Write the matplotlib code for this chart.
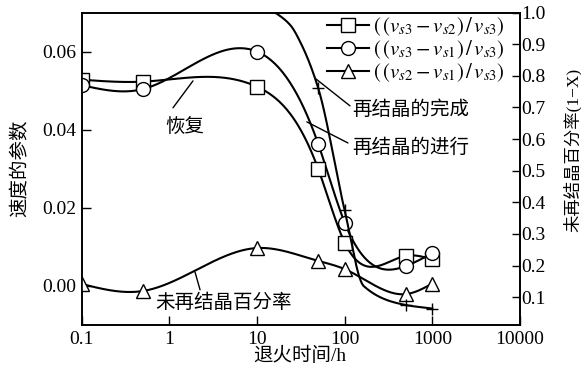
import numpy as np
import matplotlib
matplotlib.use("Agg")
import matplotlib.pyplot as plt
from matplotlib.ticker import FixedLocator, FixedFormatter, NullLocator

# annealing time (h)
hours = [0.1, 0.5, 10, 50, 100, 500, 1000]
# velocity parameters (left axis)
sq_vals = [0.0528, 0.0523, 0.0510, 0.0299, 0.0111, 0.0077, 0.0068]
ci_vals = [0.0514, 0.0504, 0.0600, 0.0363, 0.0162, 0.0051, 0.0084]
tr_vals = [0.0005, -0.0013, 0.0097, 0.0064, 0.0043, -0.0021, 0.0006]
# unrecrystallized fraction (right axis): curve knots and marked points
rx_hours = [10, 16, 24, 32, 50, 100, 165, 500, 1000]
rx_frac = [1.03, 1.00, 0.96, 0.90, 0.76, 0.374, 0.135, 0.075, 0.064]
rx_mark_hours = [50, 100, 500, 1000]
rx_mark_frac = [0.76, 0.374, 0.075, 0.064]

labels = [r'$(\,(v_{s3}-v_{s2})\,/\,v_{s3})$',
          r'$(\,(v_{s3}-v_{s1})\,/\,v_{s3})$',
          r'$(\,(v_{s2}-v_{s1})\,/\,v_{s3})$']
xticks = [0.1, 1, 10, 100, 1000, 10000]
xtick_labels = ['0.1', '1', '10', '100', '1000', '10000']
yticks_left = [0.0, 0.02, 0.04, 0.06]
yticks_right = [0.1, 0.2, 0.3, 0.4, 0.5, 0.6, 0.7, 0.8, 0.9, 1.0]


def spline(xs, ys, n=400):
    # natural cubic spline in log10(x)
    t = np.log10(np.asarray(xs, float))
    y = np.asarray(ys, float)
    h = np.diff(t)
    m = len(t)
    A = np.zeros((m, m))
    r = np.zeros(m)
    A[0, 0] = A[-1, -1] = 1
    for i in range(1, m - 1):
        A[i, i - 1] = h[i - 1]
        A[i, i] = 2 * (h[i - 1] + h[i])
        A[i, i + 1] = h[i]
        r[i] = 6 * ((y[i + 1] - y[i]) / h[i] - (y[i] - y[i - 1]) / h[i - 1])
    M = np.linalg.solve(A, r)
    tt = np.linspace(t[0], t[-1], n)
    k = np.clip(np.searchsorted(t, tt) - 1, 0, m - 2)
    a = t[k + 1] - tt
    b = tt - t[k]
    hk = h[k]
    yy = (M[k] * a ** 3 + M[k + 1] * b ** 3) / (6 * hk) \
        + (y[k] / hk - M[k] * hk / 6) * a + (y[k + 1] / hk - M[k + 1] * hk / 6) * b
    return 10 ** tt, yy


def pchip(xs, ys, n=400):
    # monotone cubic in log10(x)
    t = np.log10(np.asarray(xs, float))
    y = np.asarray(ys, float)
    h = np.diff(t)
    d = np.diff(y) / h
    m = np.zeros(len(t))
    m[0], m[-1] = d[0], d[-1]
    for k in range(1, len(t) - 1):
        if d[k - 1] * d[k] > 0:
            w1 = 2 * h[k] + h[k - 1]
            w2 = h[k] + 2 * h[k - 1]
            m[k] = (w1 + w2) / (w1 / d[k - 1] + w2 / d[k])
    tt = np.linspace(t[0], t[-1], n)
    k = np.clip(np.searchsorted(t, tt) - 1, 0, len(t) - 2)
    s = (tt - t[k]) / h[k]
    h00 = 2 * s ** 3 - 3 * s ** 2 + 1
    h10 = s ** 3 - 2 * s ** 2 + s
    h01 = -2 * s ** 3 + 3 * s ** 2
    h11 = s ** 3 - s ** 2
    yy = h00 * y[k] + h10 * h[k] * m[k] + h01 * y[k + 1] + h11 * h[k] * m[k + 1]
    return 10 ** tt, yy


def main():
    plt.rcParams['font.family'] = ['Liberation Serif', 'Noto Sans CJK SC']
    plt.rcParams['mathtext.fontset'] = 'stix'
    plt.rcParams['font.size'] = 14
    plt.rcParams['axes.linewidth'] = 1.2

    fig = plt.figure(figsize=(5.81, 3.77), dpi=100)
    ax = fig.add_axes([0.1406, 0.138, 0.7544, 0.8288])
    ax2 = ax.twinx()

    kw = dict(color='black', lw=1.5, mfc='white', mec='black', mew=1.0)
    handles = []
    for vals, mk, ms, lab in [(sq_vals, 's', 9.5, labels[0]),
                              (ci_vals, 'o', 10, labels[1]),
                              (tr_vals, '^', 10, labels[2])]:
        sx, sy = spline(hours, vals)
        ax.plot(sx, sy, color='black', lw=1.5, zorder=2)
        ax.plot(hours, vals, ls='none', marker=mk, ms=ms, mfc='white',
                mec='black', mew=1.0, zorder=3)
        h, = ax.plot([], [], marker=mk, ms=ms, label=lab, **kw)
        handles.append(h)

    rx, ry = pchip(rx_hours, rx_frac)
    ax2.plot(rx, ry, color='black', lw=1.5)
    ax2.plot(rx_mark_hours, rx_mark_frac, ls='none', marker='+', ms=9,
             mec='black', mew=1.0)

    ax.set_xscale('log')
    ax.set_xlim(0.1, 10000)
    ax.set_ylim(-0.01, 0.07)
    ax2.set_ylim(0.012, 1.0)

    ax.xaxis.set_major_locator(FixedLocator(xticks))
    ax.xaxis.set_major_formatter(FixedFormatter(xtick_labels))
    ax.xaxis.set_minor_locator(NullLocator())
    ax.set_yticks(yticks_left)
    ax.set_yticklabels(['%.2f' % v for v in yticks_left])
    ax2.set_yticks(yticks_right)
    ax2.set_yticklabels(['%.1f' % v for v in yticks_right])

    ax.tick_params(axis='both', direction='in', length=6.5, width=1.0,
                   labelsize=14)
    ax.tick_params(axis='x', pad=4)
    ax.tick_params(axis='y', pad=4)
    ax2.tick_params(axis='y', direction='in', length=6, width=1.0,
                    labelsize=14, pad=1)

    ax.set_xlabel('退火时间/h', fontsize=14)
    ax.xaxis.set_label_coords(0.498, -0.07)
    ax.set_ylabel('速度的参数', fontsize=14)
    ax.yaxis.set_label_coords(-0.118, 0.5)
    ax2.set_ylabel('未再结晶百分率(1−X)', fontsize=12.5)
    ax2.yaxis.set_label_coords(1.098, 0.56)

    ax.legend(handles=handles, loc='upper right', bbox_to_anchor=(0.966, 0.99),
              frameon=False, numpoints=1, fontsize=15, handlelength=2.0,
              handletextpad=0.2, labelspacing=0.0, borderpad=0, borderaxespad=0)

    line = dict(arrowstyle='-', color='black', lw=1.0, shrinkA=0, shrinkB=0)
    ax.annotate('', xy=(1.86, 0.0525), xytext=(1.10, 0.0456), arrowprops=line)
    ax.text(1.51, 0.0407, '恢复', ha='center', va='center', fontsize=14)
    ax.annotate('', xy=(47, 0.053), xytext=(115, 0.0461), arrowprops=line)
    ax.text(121, 0.045, '再结晶的完成', ha='left', va='center', fontsize=14)
    ax.annotate('', xy=(37, 0.042), xytext=(109, 0.0366), arrowprops=line)
    ax.text(121, 0.0353, '再结晶的进行', ha='left', va='center', fontsize=14)
    ax.annotate('', xy=(1.96, 0.0036), xytext=(2.24, -0.001), arrowprops=line)
    ax.text(0.686, -0.0044, '未再结晶百分率', ha='left', va='center', fontsize=14)

    fig.savefig('out.png', dpi=100)


if __name__ == "__main__":
    main()
